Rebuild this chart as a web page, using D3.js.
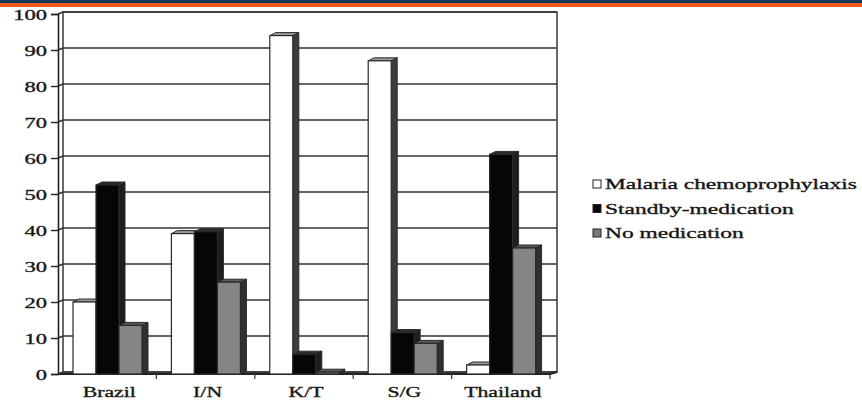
<!DOCTYPE html>
<html>
<head>
<meta charset="utf-8">
<script src="https://cdn.jsdelivr.net/npm/d3@7"></script>
<style>
  html, body { margin: 0; padding: 0; background: #ffffff; }
  svg { display: block; }
  text { font-family: "Liberation Serif", "DejaVu Serif", serif; fill: #111; stroke: #222; stroke-width: 0.35px; }
</style>
</head>
<body>
<svg id="chart" width="862" height="401"></svg>
<script>
// ---- data ----
const categories = ["Brazil", "I/N", "K/T", "S/G", "Thailand"];
const seriesNames = ["Malaria chemoprophylaxis", "Standby-medication", "No medication"];
const malaria = [20, 39, 94, 87, 2.5];
const standby = [52.5, 39.5, 5.5, 11.5, 61];
const noMedication = [13.5, 25.5, 0.5, 8.5, 35];
const yTickValues = [0, 10, 20, 30, 40, 50, 60, 70, 80, 90, 100];

const seriesValues = [malaria, standby, noMedication];
const seriesStyle = [
  { front: "#ffffff", side: "#3c3c3c", top: "#9a9a9a", swatch: "#ffffff" },
  { front: "#060606", side: "#1e1e1e", top: "#2a2a2a", swatch: "#060606" },
  { front: "#858585", side: "#303030", top: "#5a5a5a", swatch: "#7a7a7a" }
];

const svg = d3.select("#chart");

// top banner stripes
svg.append("rect").attr("x", 0).attr("y", 0).attr("width", 862).attr("height", 3).attr("fill", "#17365f");
svg.append("rect").attr("x", 0).attr("y", 3).attr("width", 862).attr("height", 4).attr("fill", "#f05a1a");

// ---- scales ----
const y = d3.scaleLinear().domain([0, 100]).range([374, 14]);
const x = d3.scaleBand().domain(categories).range([58, 550]);
const xs = d3.scaleBand().domain(seriesNames).range([0, 69]);
const groupOffset = 15;
const wallDx = 5, wallDy = -2;
const barDx = 6, barDy = -3;

const stroke = "#2a2a2a";

// back wall
const backLeft = 58 + wallDx, backRight = 550 + wallDx + 2;
svg.append("rect")
  .attr("x", backLeft).attr("y", y(100) + wallDy)
  .attr("width", backRight - backLeft).attr("height", y(0) - y(100))
  .attr("fill", "#ffffff").attr("stroke", stroke).attr("stroke-width", 1.4);

// gridlines
svg.append("g").selectAll("path").data(yTickValues).join("path")
  .attr("d", v => `M58,${y(v)} L${backLeft},${y(v) + wallDy} L${backRight},${y(v) + wallDy}`)
  .attr("fill", "none").attr("stroke", "#333").attr("stroke-width", 1.5);

// floor front edge
svg.append("path")
  .attr("d", `M58,${y(0)} L550,${y(0)} L${backRight},${y(0) + wallDy}`)
  .attr("fill", "none").attr("stroke", "#222").attr("stroke-width", 2);

// ---- bars ----
const bars = svg.append("g");
seriesNames.forEach((name, si) => {
  const st = seriesStyle[si];
  const g = bars.append("g");
  categories.forEach((cat, ci) => {
    const v = seriesValues[si][ci];
    const x0 = x(cat) + groupOffset + xs(name);
    const w = xs.bandwidth();
    const yt = y(v), yb = y(0);
    g.append("path")
      .attr("d", `M${x0 + w},${yt} L${x0 + w + barDx},${yt + barDy} L${x0 + w + barDx},${yb + barDy} L${x0 + w},${yb} Z`)
      .attr("fill", st.side).attr("stroke", stroke).attr("stroke-width", 1);
    g.append("path")
      .attr("d", `M${x0},${yt} L${x0 + barDx},${yt + barDy} L${x0 + w + barDx},${yt + barDy} L${x0 + w},${yt} Z`)
      .attr("fill", st.top).attr("stroke", stroke).attr("stroke-width", 1);
    g.append("rect")
      .attr("x", x0).attr("y", yt).attr("width", w).attr("height", yb - yt)
      .attr("fill", st.front).attr("stroke", stroke).attr("stroke-width", 1.2);
  });
});

// ---- y axis ----
const yAxis = svg.append("g").attr("transform", "translate(58,0)")
  .call(d3.axisLeft(y).tickValues(yTickValues).tickSizeOuter(0).tickSize(7).tickPadding(0).tickFormat(""));
yAxis.select(".domain").attr("stroke", "#222").attr("stroke-width", 1.6);
yAxis.selectAll(".tick line").attr("stroke", "#222").attr("stroke-width", 1.4);
svg.append("g").selectAll("text").data(yTickValues).join("text")
  .attr("x", 0).attr("y", 0).attr("dy", "0.35em")
  .attr("text-anchor", "end").attr("font-size", 15)
  .attr("transform", v => `translate(47,${y(v) + 1}) scale(1.5,1)`)
  .text(v => String(v));

// ---- x axis ----
svg.append("g").selectAll("line").data(categories).join("line")
  .attr("x1", d => x(d) + x.step()).attr("x2", d => x(d) + x.step())
  .attr("y1", y(0)).attr("y2", y(0) + 5)
  .attr("stroke", "#333").attr("stroke-width", 1.2);
svg.append("g").selectAll("text").data(categories).join("text")
  .attr("x", 0).attr("y", 0)
  .attr("text-anchor", "middle").attr("font-size", 15)
  .attr("transform", d => `translate(${x(d) + x.bandwidth() / 2 + 2},397) scale(1.45,1)`)
  .text(d => d);

// ---- legend ----
const legend = svg.append("g").attr("transform", "translate(593,184)");
const rows = legend.selectAll("g").data(seriesNames).join("g")
  .attr("transform", (d, i) => `translate(0,${i * 24.5})`);
rows.append("rect").attr("x", 0).attr("y", -4).attr("width", 8).attr("height", 8)
  .attr("fill", (d, i) => seriesStyle[i].swatch).attr("stroke", "#222").attr("stroke-width", 1);
const legendText = rows.append("text").attr("x", 0).attr("y", 0).attr("dy", "0.35em")
  .attr("font-size", 15).text(d => d);
const firstLen = legendText.node().getComputedTextLength();
legendText.attr("transform", `translate(12,0) scale(${252 / firstLen},1)`);
</script>
</body>
</html>
